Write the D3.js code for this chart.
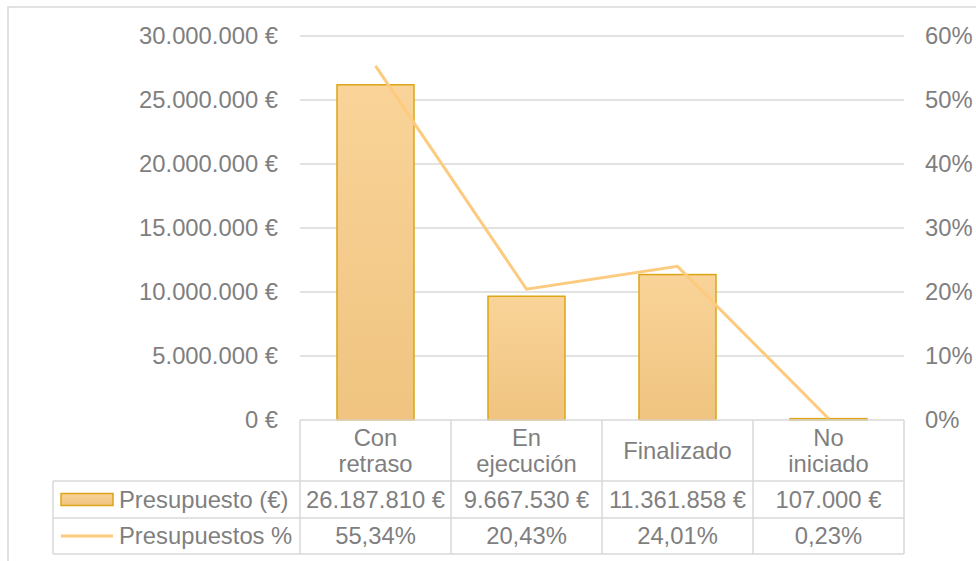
<!DOCTYPE html>
<html lang="es">
<head>
<meta charset="utf-8">
<title>Presupuesto por estado</title>
<script src="https://cdn.jsdelivr.net/npm/d3@7/dist/d3.min.js"></script>
<style>
  body { margin: 0; background: #fff; }
  text { font-family: "Liberation Sans", Arial, sans-serif; fill: #7f7f7f; }
  .grid line { stroke: #d9d9d9; stroke-width: 1.5; }
  .axis path, .axis line { display: none; }
  .axis text { font-size: 23.8px; fill: #7f7f7f; font-family: "Liberation Sans", Arial, sans-serif; }
</style>
</head>
<body>
<script>
// data
var categories = ["Con retraso", "En ejecución", "Finalizado", "No iniciado"];
var presupuesto = [26187810, 9667530, 11361858, 107000];
var porcentaje = [55.34, 20.43, 24.01, 0.23];
var seriesNames = ["Presupuesto (€)", "Presupuestos %"];
var leftTicks = [0, 5000000, 10000000, 15000000, 20000000, 25000000, 30000000];
var rightTicks = [0, 10, 20, 30, 40, 50, 60];

var width = 976, height = 561;
var plot = {left: 300, right: 904, top: 36, bottom: 420};
var rowH = [61, 37, 36];
var legendLeft = 53;
var fs = 23.8;

var es = d3.formatLocale({decimal: ",", thousands: ".", grouping: [3], currency: ["", " €"]});
var fmtEuro = function(v) { return es.format(",")(v) + " €"; };
var fmtPct = function(v) { return es.format(".2f")(v) + "%"; };

var svg = d3.select("body").append("svg")
    .attr("width", width)
    .attr("height", height);

// outer chart border
svg.append("rect")
    .attr("x", 8).attr("y", 7)
    .attr("width", width + 10).attr("height", height + 10)
    .attr("fill", "none")
    .attr("stroke", "#d9d9d9")
    .attr("stroke-width", 1.5);

var defs = svg.append("defs");
var grad = defs.append("linearGradient")
    .attr("id", "barGrad")
    .attr("x1", 0).attr("y1", 0).attr("x2", 0).attr("y2", 1);
grad.append("stop").attr("offset", "0%").attr("stop-color", "#f9d398");
grad.append("stop").attr("offset", "100%").attr("stop-color", "#f0c480");

var x = d3.scaleBand()
    .domain(categories)
    .range([plot.left, plot.right])
    .paddingInner(0);

var y = d3.scaleLinear()
    .domain([0, 30000000])
    .range([plot.bottom, plot.top]);

var y2 = d3.scaleLinear()
    .domain([0, 60])
    .range([plot.bottom, plot.top]);

// gridlines
svg.append("g")
    .attr("class", "grid")
    .selectAll("line")
    .data(leftTicks.filter(function(d) { return d > 0; }))
    .enter().append("line")
    .attr("x1", plot.left).attr("x2", plot.right)
    .attr("y1", function(d) { return y(d); })
    .attr("y2", function(d) { return y(d); });

// left axis
svg.append("g")
    .attr("class", "axis")
    .attr("transform", "translate(" + (plot.left - 22) + ",0)")
    .call(d3.axisLeft(y).tickValues(leftTicks).tickSize(0).tickPadding(0).tickFormat(fmtEuro));

// right axis
svg.append("g")
    .attr("class", "axis")
    .attr("transform", "translate(" + (plot.right + 21) + ",0)")
    .call(d3.axisRight(y2).tickValues(rightTicks).tickSize(0).tickPadding(0).tickFormat(function(d) { return d + "%"; }));

// bars
var barW = x.bandwidth() * 0.51;
svg.selectAll("rect.bar")
    .data(presupuesto)
    .enter().append("rect")
    .attr("class", "bar")
    .attr("x", function(d, i) { return x(categories[i]) + (x.bandwidth() - barW) / 2; })
    .attr("y", function(d) { return y(d); })
    .attr("width", barW)
    .attr("height", function(d) { return plot.bottom - y(d); })
    .attr("fill", "url(#barGrad)")
    .attr("stroke", "#dca514")
    .attr("stroke-width", 1.5);

// line
var line = d3.line()
    .x(function(d, i) { return x(categories[i]) + x.bandwidth() / 2; })
    .y(function(d) { return y2(d); });

svg.append("path")
    .datum(porcentaje)
    .attr("d", line)
    .attr("fill", "none")
    .attr("stroke", "#fdcb7f")
    .attr("stroke-width", 3);

// data table
var table = svg.append("g");
var rowsY = [plot.bottom, plot.bottom + rowH[0], plot.bottom + rowH[0] + rowH[1], plot.bottom + rowH[0] + rowH[1] + rowH[2]];
var bc = "#d9d9d9";

// horizontal lines
rowsY.forEach(function(ry, i) {
    table.append("line")
        .attr("x1", i === 0 ? plot.left : legendLeft).attr("x2", plot.right)
        .attr("y1", ry).attr("y2", ry)
        .attr("stroke", bc).attr("stroke-width", 1.5);
});
// vertical lines
var colX = categories.map(function(c) { return x(c); }).concat([plot.right]);
colX.forEach(function(cx) {
    table.append("line")
        .attr("x1", cx).attr("x2", cx)
        .attr("y1", rowsY[0]).attr("y2", rowsY[3])
        .attr("stroke", bc).attr("stroke-width", 1.5);
});
table.append("line")
    .attr("x1", legendLeft).attr("x2", legendLeft)
    .attr("y1", rowsY[1]).attr("y2", rowsY[3])
    .attr("stroke", bc).attr("stroke-width", 1.5);

// header labels
categories.forEach(function(c) {
    var words = c.split(" ");
    var t = table.append("text")
        .attr("text-anchor", "middle")
        .attr("font-size", fs)
        .attr("x", x(c) + x.bandwidth() / 2);
    var mid = rowsY[0] + rowH[0] / 2;
    var lh = 26.5;
    words.forEach(function(w, k) {
        t.append("tspan")
            .attr("x", x(c) + x.bandwidth() / 2)
            .attr("y", mid + (k - (words.length - 1) / 2) * lh)
            .attr("dy", "0.35em")
            .text(w);
    });
});

// value rows
var rowsData = [presupuesto.map(fmtEuro), porcentaje.map(fmtPct)];
rowsData.forEach(function(vals, r) {
    var cy = rowsY[r + 1] + rowH[r + 1] / 2;
    vals.forEach(function(v, i) {
        table.append("text")
            .attr("text-anchor", "middle")
            .attr("font-size", fs)
            .attr("x", x(categories[i]) + x.bandwidth() / 2)
            .attr("y", cy)
            .attr("dy", "0.35em")
            .text(v);
    });
    // legend label
    table.append("text")
        .attr("font-size", fs)
        .attr("x", 119)
        .attr("y", cy)
        .attr("dy", "0.35em")
        .text(seriesNames[r]);
});

// legend keys
var key1y = rowsY[1] + rowH[1] / 2;
table.append("rect")
    .attr("x", 61).attr("y", key1y - 6)
    .attr("width", 52).attr("height", 12)
    .attr("fill", "url(#barGrad)")
    .attr("stroke", "#dca514")
    .attr("stroke-width", 1.5);
var key2y = rowsY[2] + rowH[2] / 2;
table.append("line")
    .attr("x1", 61).attr("x2", 113)
    .attr("y1", key2y).attr("y2", key2y)
    .attr("stroke", "#fdcb7f")
    .attr("stroke-width", 3);
</script>
</body>
</html>
